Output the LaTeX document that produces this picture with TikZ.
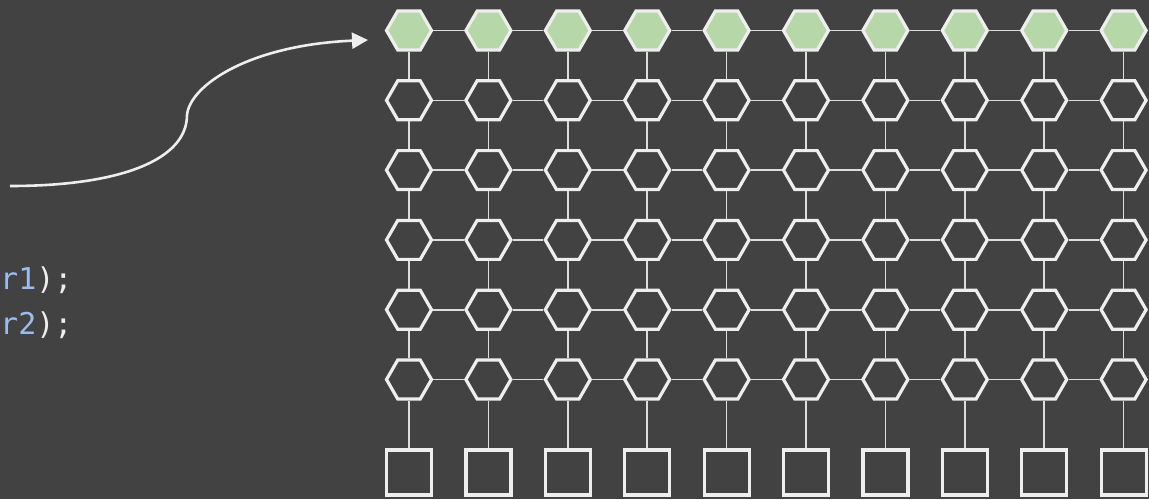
\documentclass[tikz,border=0pt]{standalone}
\usepackage{fontspec}
\newfontfamily\codefont{DejaVu Sans Mono}
\usetikzlibrary{shapes.geometric,arrows.meta}
\definecolor{bg}{HTML}{424242}
\definecolor{fg}{HTML}{EEEEEE}
\definecolor{wire}{HTML}{DDDDDD}
\definecolor{hexgreen}{HTML}{B6D7A8}
\definecolor{codeblue}{HTML}{9CBCEE}
\begin{document}
\begin{tikzpicture}[x=1pt,y=-1pt,
 hexnode/.style={regular polygon, regular polygon sides=6, minimum size=45pt, inner sep=0pt, draw=fg, line width=3.2pt, fill=bg},
 greenhex/.style={hexnode, fill=hexgreen},
 sqnode/.style={rectangle, minimum size=45pt, inner sep=0pt, draw=fg, line width=3.2pt, fill=bg},
 wireline/.style={draw=wire, line width=1.6pt},
 flowarrow/.style={draw=fg, line width=2.6pt, -{Triangle[length=16pt,width=16pt]}},
 codetext/.style={anchor=base west, inner sep=0pt, font=\codefont\fontsize{30}{36}\selectfont}
]
\fill[bg] (0,0) rectangle (1149,499);
\useasboundingbox (0,0) rectangle (1149,499);
\foreach \i in {0,...,9} {
  \pgfmathsetmacro\xx{409+79.4*\i}
  \foreach \j in {1,...,6} {
    \pgfmathsetmacro\yy{30.5+69.8*(\j-1)}
    \ifnum\j=1
      \node[greenhex] (h-\i-\j) at (\xx,\yy) {};
    \else
      \node[hexnode] (h-\i-\j) at (\xx,\yy) {};
    \fi
  }
  \node[sqnode] (s-\i) at (\xx,472.5) {};
}
\foreach \i in {0,...,8} {
  \pgfmathtruncatemacro\n{\i+1}
  \foreach \j in {1,...,6} {
    \draw[wireline] (h-\i-\j) -- (h-\n-\j);
  }
}
\foreach \i in {0,...,9} {
  \foreach \j in {1,...,5} {
    \pgfmathtruncatemacro\m{\j+1}
    \draw[wireline] (h-\i-\j) -- (h-\i-\m);
  }
  \draw[wireline] (h-\i-6) -- (s-\i);
}
\coordinate (a0) at (10,186);
\coordinate (amid) at (187,115);
\coordinate (a1) at (368,40);
\draw[flowarrow] (a0) .. controls (120,186) and (187,160) .. (amid) .. controls (190,85) and (250,45) .. (a1);
\node[codetext] (c1) at (0,289) {\textcolor{codeblue}{r1}\textcolor{fg}{);}};
\node[codetext] (c2) at (0,334) {\textcolor{codeblue}{r2}\textcolor{fg}{);}};
\end{tikzpicture}
\end{document}
